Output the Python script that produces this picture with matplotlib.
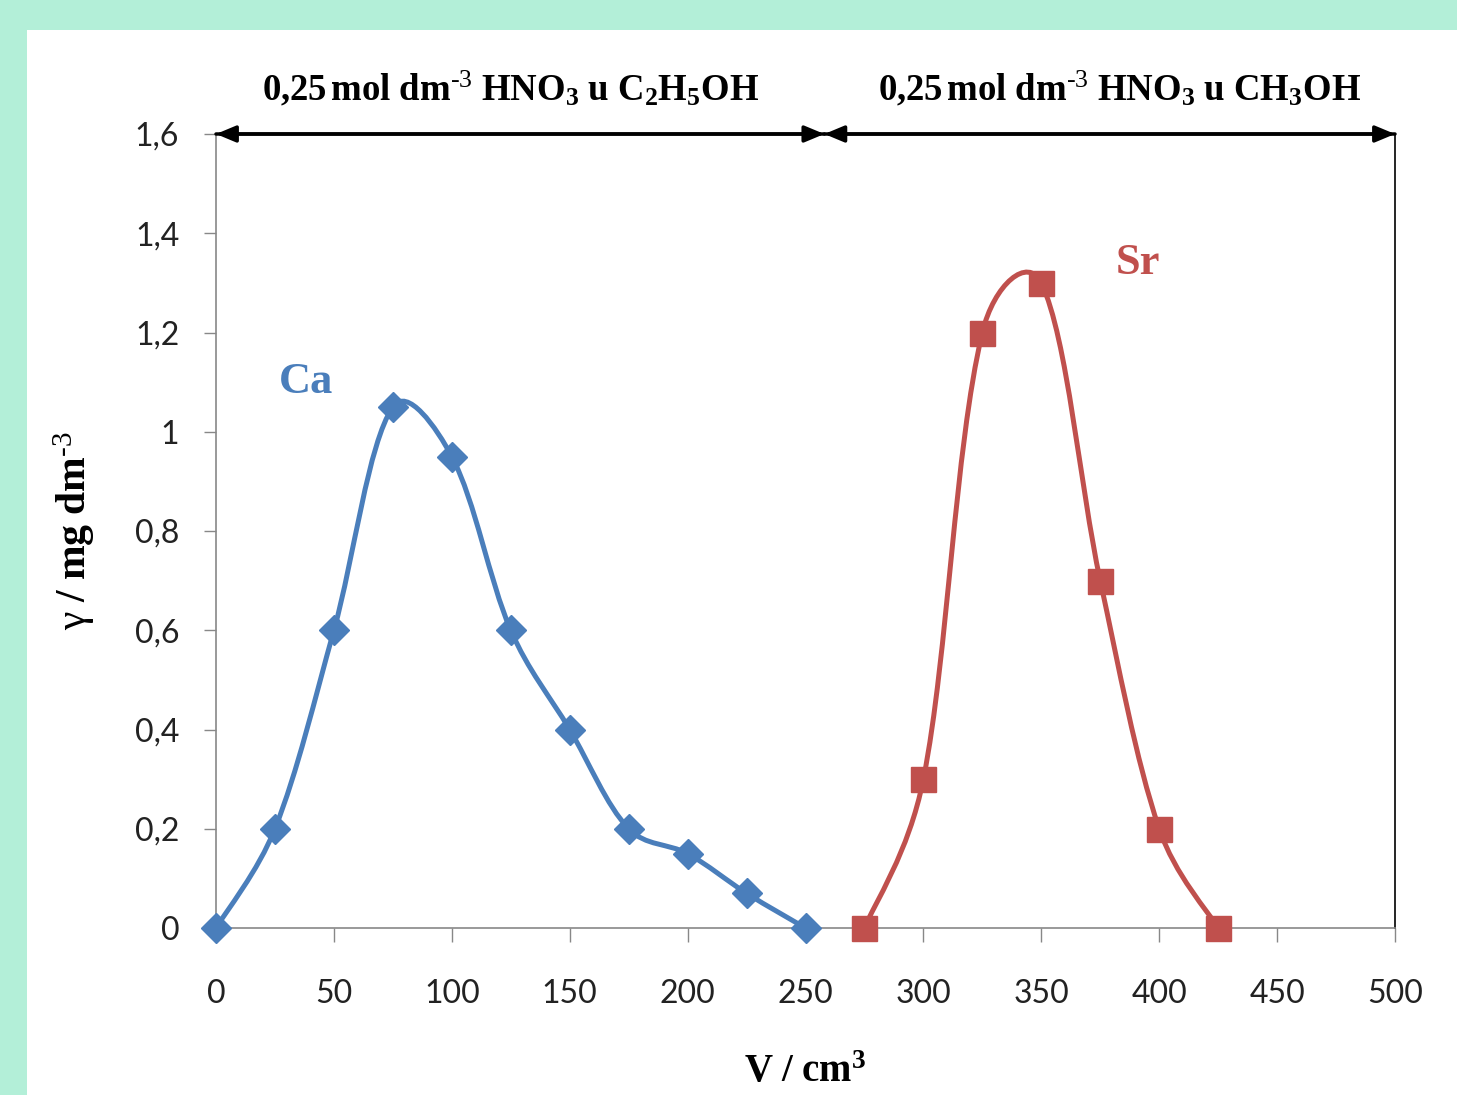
import matplotlib.pyplot as plt
import numpy as np
from matplotlib.path import Path
from matplotlib.patches import PathPatch, Rectangle

plt.rcParams['mathtext.fontset'] = 'custom'
plt.rcParams['mathtext.rm'] = 'Liberation Serif'
plt.rcParams['mathtext.it'] = 'Liberation Serif:italic'
plt.rcParams['mathtext.bf'] = 'Liberation Serif:bold'

# data
ca_v = [0, 25, 50, 75, 100, 125, 150, 175, 200, 225, 250]
ca_c = [0, 0.2, 0.6, 1.05, 0.95, 0.6, 0.4, 0.2, 0.15, 0.07, 0]
sr_v = [275, 300, 325, 350, 375, 400, 425]
sr_c = [0, 0.3, 1.2, 1.3, 0.7, 0.2, 0]

x_ticks = [0, 50, 100, 150, 200, 250, 300, 350, 400, 450, 500]
y_ticks = [0, 0.2, 0.4, 0.6, 0.8, 1.0, 1.2, 1.4, 1.6]
y_labels = ['0', '0,2', '0,4', '0,6', '0,8', '1', '1,2', '1,4', '1,6']

BLUE = '#4a7ebb'
RED = '#c0504d'
MINT = '#b3efd8'

# pixels per data unit, used only for segment lengths of the smoothing
SX = 1179 / 500
SY = 794 / 1.6


def smooth_path(xs, ys):
    # smoothed line like excel: cubic bezier, tangent arms weighted by
    # square root of the neighbouring segment lengths (on screen)
    pts = np.column_stack([xs, ys]).astype(float)
    n = len(pts)

    def dist(a, b):
        return np.sqrt(np.hypot((b[0] - a[0]) * SX, (b[1] - a[1]) * SY))

    verts = [pts[0]]
    codes = [Path.MOVETO]
    for i in range(n - 1):
        p1 = pts[i]
        p2 = pts[i + 1]
        d12 = dist(p1, p2)
        if i > 0:
            p0 = pts[i - 1]
            c1 = p1 + (p2 - p0) * d12 / (dist(p0, p1) + d12) / 3
        else:
            c1 = p1 + (p2 - p1) / 6
        if i + 2 < n:
            p3 = pts[i + 2]
            c2 = p2 - (p3 - p1) * d12 / (d12 + dist(p2, p3)) / 3
        else:
            c2 = p2 - (p2 - p1) / 6
        verts += [c1, c2, p2]
        codes += [Path.CURVE4] * 3
    return Path(verts, codes)


fig = plt.figure(figsize=(14.57, 10.95), dpi=100)
fig.patch.set_facecolor(MINT)
fig.patches.append(Rectangle((27 / 1457, 0), 1, 1 - 30 / 1095,
                             transform=fig.transFigure, facecolor='white',
                             edgecolor='none', zorder=-10))

ax = fig.add_axes([216 / 1457, 1 - 928 / 1095, 1179 / 1457, 794 / 1095])
ax.set_facecolor('none')
ax.set_xlim(0, 500)
ax.set_ylim(0, 1.6)

for xs, ys, col, mk, ms in [(ca_v, ca_c, BLUE, 'D', 15), (sr_v, sr_c, RED, 's', 18)]:
    ax.add_patch(PathPatch(smooth_path(xs, ys), facecolor='none', edgecolor=col,
                           lw=3.6, zorder=3, clip_on=False))
    ax.plot(xs, ys, ls='none', marker=mk, ms=ms, color=col, zorder=4, clip_on=False)

ax.text(38, 1.10, 'Ca', color=BLUE, fontsize=32, fontweight='bold',
        family='Liberation Serif', ha='center', va='center')
ax.text(391, 1.34, 'Sr', color=RED, fontsize=32, fontweight='bold',
        family='Liberation Serif', ha='center', va='center')

# solvent ranges on top
split = 258
head = dict(arrowstyle='-|>,head_length=1.2,head_width=0.5',
            color='black', lw=2.5, shrinkA=0, shrinkB=0)
for a, b in [(0, split), (split, 0), (split, 500), (500, split)]:
    ax.annotate('', xy=(a, 1.6), xytext=(b, 1.6), annotation_clip=False,
                arrowprops=head)

ax.text(125, 1.69, r'$\mathbf{0{,}25\,mol\ dm^{\mathrm{\text{-}3}}\ HNO_3\ u\ C_2H_5OH}$',
        fontsize=26.5, ha='center', va='center')
ax.text(383, 1.69, r'$\mathbf{0{,}25\,mol\ dm^{\mathrm{\text{-}3}}\ HNO_3\ u\ CH_3OH}$',
        fontsize=26.5, ha='center', va='center')

ax.set_xticks(x_ticks)
ax.set_xticklabels([str(v) for v in x_ticks])
ax.set_yticks(y_ticks)
ax.set_yticklabels(y_labels)
ax.tick_params(axis='x', length=10, width=1, color='#888888', pad=27,
               labelsize=23, labelcolor='#222222')
ax.tick_params(axis='y', length=8.5, width=1, color='#888888', pad=18,
               labelsize=23, labelcolor='#222222')
for lab in ax.get_xticklabels() + ax.get_yticklabels():
    lab.set_family('Lato')

ax.spines['top'].set_visible(False)
ax.spines['left'].set_color('#888888')
ax.spines['bottom'].set_color('#888888')
ax.spines['right'].set_color('black')
for s in ['left', 'bottom', 'right']:
    ax.spines[s].set_linewidth(1.2)

ax.set_xlabel(r'$\mathbf{V\ /\ cm^3}$', fontsize=28, labelpad=31)
ax.set_ylabel(r'$\mathrm{\gamma}\ \mathbf{/\ mg\ dm^{\mathrm{\text{-}3}}}$', fontsize=30,
              labelpad=27)

fig.savefig('out.png', dpi=100, facecolor=fig.get_facecolor())
